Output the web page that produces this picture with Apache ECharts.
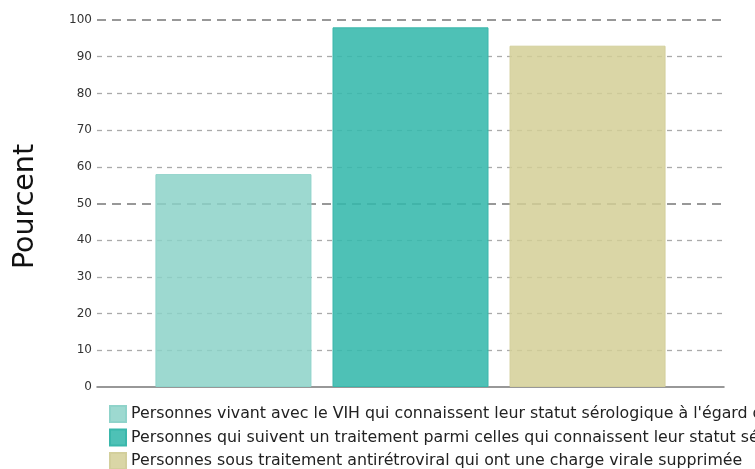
<!DOCTYPE html>
<html><head><meta charset="utf-8">
<script src="https://cdn.jsdelivr.net/npm/echarts@6/dist/echarts.min.js"></script>
<style>html,body{margin:0;padding:0;background:#fff}#c{width:755px;height:469px}</style>
</head><body><div id="c"></div>
<script>
const categories = [''];
const seriesNames = [
  "Personnes vivant avec le VIH qui connaissent leur statut sérologique à l'égard du VIH",
  "Personnes qui suivent un traitement parmi celles qui connaissent leur statut sérologique",
  "Personnes sous traitement antirétroviral qui ont une charge virale supprimée"
];
const values1 = [58];
const values2 = [98];
const values3 = [93];
const yTicks = [0, 10, 20, 30, 40, 50, 60, 70, 80, 90, 100];
const colors = ['rgba(140,210,200,0.85)', 'rgba(54,184,172,0.88)', 'rgba(212,207,150,0.85)'];
const borders = ['#8fd3ca', '#3ab7ab', '#d3cf9c'];
const chart = echarts.init(document.getElementById('c'));
const font = 'DejaVu Sans';
const mk = (i, data) => ({
  name: seriesNames[i], type: 'bar', data: data, barWidth: 156, barGap: '13.5%',
  itemStyle: { color: colors[i], borderColor: borders[i], borderWidth: 1 }
});
const legendRow = (i, top) => ({
  orient: 'horizontal', left: 109, top: top, itemWidth: 16, itemHeight: 16, itemGap: 0,
  icon: 'rect', textStyle: { fontSize: 15.8, color: '#222', fontFamily: font },
  data: [seriesNames[i]], padding: 0
});
chart.setOption({
  animation: false,
  textStyle: { fontFamily: font },
  grid: { left: 97, right: 31, top: 20, bottom: 82, containLabel: false },
  xAxis: {
    type: 'category', data: categories,
    axisLine: { lineStyle: { color: '#777', width: 1.5 } },
    axisTick: { show: false }, axisLabel: { show: false }
  },
  yAxis: [{
    type: 'value', min: 0, max: 100, interval: 10,
    name: 'Pourcent', nameLocation: 'middle', nameGap: 57, nameRotate: 90,
    nameTextStyle: { fontSize: 28.5, color: '#111', fontFamily: font, padding: [0, 6, 0, 0] },
    axisLine: { show: false }, axisTick: { show: false },
    axisLabel: { fontSize: 12, color: '#333', margin: 5, fontFamily: font },
    splitLine: { lineStyle: { color: ['transparent', '#aaa', '#aaa', '#aaa', '#aaa'], type: [5, 5], width: 1.3 } }
  }, {
    type: 'value', min: 0, max: 100, interval: 50, position: 'left',
    axisLine: { show: false }, axisTick: { show: false }, axisLabel: { show: false },
    splitLine: { lineStyle: { color: ['transparent', '#777', '#777'], type: [9, 6], width: 1.5 } }
  }],
  legend: [legendRow(0, 405), legendRow(1, 428.5), legendRow(2, 452)],
  series: [mk(0, values1), mk(1, values2), mk(2, values3)]
});
</script></body></html>
